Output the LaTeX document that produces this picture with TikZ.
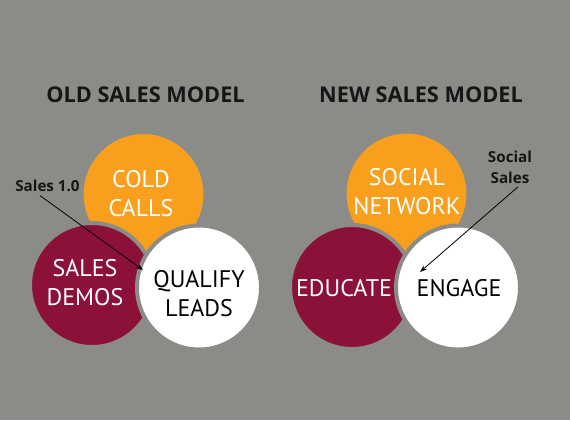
\documentclass[tikz,border=0pt]{standalone}
\usepackage{fontspec}
\setmainfont{PT Sans}
\newfontfamily\boldfam{Open Sans}
\usetikzlibrary{arrows.meta}
\definecolor{bg}{HTML}{8B8C87}
\definecolor{orng}{HTML}{F8A01E}
\definecolor{mar}{HTML}{8C1139}
\definecolor{ink}{HTML}{161616}
\tikzset{
  bubble/.style={circle, minimum size=124bp, inner sep=0pt, draw=bg, line width=4bp},
  bigtxt/.style={inner sep=0pt, align=center, font=\fontsize{24bp}{29bp}\selectfont},
  title/.style={inner sep=0pt, text=ink, font=\boldfam\bfseries\fontsize{21.7bp}{26bp}\selectfont},
  note/.style={inner sep=0pt, align=center, text=ink, font=\boldfam\bfseries\fontsize{15.2bp}{20.5bp}\selectfont},
  pointer/.style={-{Stealth[length=7bp,width=5bp]}, line width=0.8bp, black}
}
\begin{document}
\begin{tikzpicture}[x=1bp,y=-1bp]
\fill[bg] (0,0) rectangle (570,420);
\useasboundingbox (0,0) rectangle (570,420);
% titles
\node[title] (t1) at (145.5,94.5) {OLD SALES MODEL};
\node[title] (t2) at (421,94.5) {NEW SALES MODEL};
% old model
\node[bubble, fill=orng] (cold) at (143.5,194) {};
\node[bubble, fill=mar] (demos) at (92,285) {};
\node[bubble, fill=white] (qual) at (199,287.5) {};
\node[bigtxt, text=white] (coldt) at (141,193.5) {COLD\\CALLS};
\node[bigtxt, text=white] (demost) at (85,283) {SALES\\DEMOS};
\node[bigtxt, text=black] (qualt) at (199,294) {QUALIFY\\LEADS};
% new model
\node[bubble, fill=orng] (soc) at (406.5,193.5) {};
\node[bubble, fill=mar] (edu) at (352,287) {};
\node[bubble, fill=white] (eng) at (458,287.5) {};
\node[bigtxt, text=white] (soct) at (407,191.5) {SOCIAL\\NETWORK};
\node[bigtxt, text=white] (edut) at (344,288.5) {EDUCATE};
\node[bigtxt, text=black] (engt) at (459,288.5) {ENGAGE};
% notes and arrows
\node[note] (s10) at (47.5,185.5) {Sales 1.0};
\node[note] (ss) at (510,167.5) {Social\\Sales};
\coordinate (e1) at (143,270);
\coordinate (e2) at (420,272);
\draw[pointer] ([xshift=-7.5bp,yshift=-4bp]s10.south) -- (e1);
\draw[pointer] ([xshift=8bp,yshift=-3bp]ss.south) -- (e2);
\end{tikzpicture}
\end{document}
